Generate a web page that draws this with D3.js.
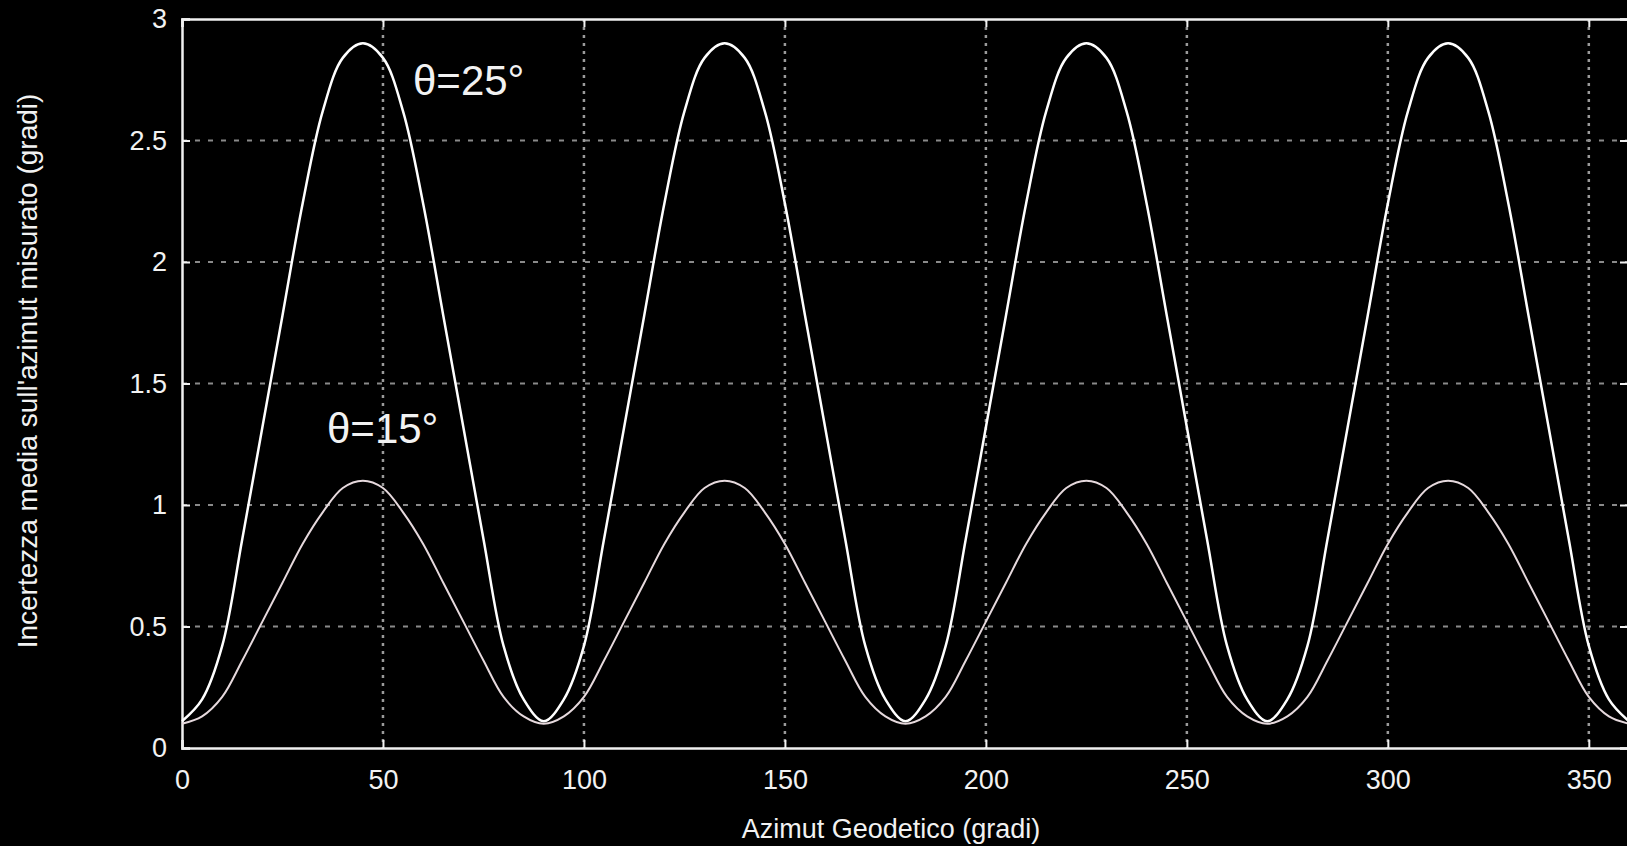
<!DOCTYPE html>
<html>
<head>
<meta charset="utf-8">
<script src="https://cdnjs.cloudflare.com/ajax/libs/d3/7.8.5/d3.min.js"></script>
<style>
  html, body { margin: 0; padding: 0; background: #000; overflow: hidden; }
  text { font-family: "Liberation Sans", Arial, sans-serif; fill: #f2f2f2; }
</style>
</head>
<body>
<div id="chart"></div>
<script>
// azimuth samples (degrees)
var azimut = [0, 5, 10, 15, 20, 25, 30, 35, 40, 45, 50, 55, 60, 65, 70, 75, 80, 85,
  90, 95, 100, 105, 110, 115, 120, 125, 130, 135, 140, 145, 150, 155, 160, 165, 170, 175,
  180, 185, 190, 195, 200, 205, 210, 215, 220, 225, 230, 235, 240, 245, 250, 255, 260, 265,
  270, 275, 280, 285, 290, 295, 300, 305, 310, 315, 320, 325, 330, 335, 340, 345, 350, 355, 360];

// theta = 25 deg
var theta25 = [0.11, 0.20, 0.42, 0.86, 1.32, 1.78, 2.24, 2.62, 2.84, 2.90, 2.84, 2.62, 2.24, 1.78, 1.32, 0.86, 0.42, 0.20,
  0.11, 0.20, 0.42, 0.86, 1.32, 1.78, 2.24, 2.62, 2.84, 2.90, 2.84, 2.62, 2.24, 1.78, 1.32, 0.86, 0.42, 0.20,
  0.11, 0.20, 0.42, 0.86, 1.32, 1.78, 2.24, 2.62, 2.84, 2.90, 2.84, 2.62, 2.24, 1.78, 1.32, 0.86, 0.42, 0.20,
  0.11, 0.20, 0.42, 0.86, 1.32, 1.78, 2.24, 2.62, 2.84, 2.90, 2.84, 2.62, 2.24, 1.78, 1.32, 0.86, 0.42, 0.20,
  0.11];

// theta = 15 deg
var theta15 = [0.10, 0.13, 0.21, 0.36, 0.52, 0.68, 0.84, 0.97, 1.07, 1.10, 1.07, 0.97, 0.84, 0.68, 0.52, 0.36, 0.21, 0.13,
  0.10, 0.13, 0.21, 0.36, 0.52, 0.68, 0.84, 0.97, 1.07, 1.10, 1.07, 0.97, 0.84, 0.68, 0.52, 0.36, 0.21, 0.13,
  0.10, 0.13, 0.21, 0.36, 0.52, 0.68, 0.84, 0.97, 1.07, 1.10, 1.07, 0.97, 0.84, 0.68, 0.52, 0.36, 0.21, 0.13,
  0.10, 0.13, 0.21, 0.36, 0.52, 0.68, 0.84, 0.97, 1.07, 1.10, 1.07, 0.97, 0.84, 0.68, 0.52, 0.36, 0.21, 0.13,
  0.10];

var xTicks = [0, 50, 100, 150, 200, 250, 300, 350];
var yTicks = [0, 0.5, 1, 1.5, 2, 2.5, 3];
var yTickLabels = ['0', '0.5', '1', '1.5', '2', '2.5', '3'];

var width = 1627, height = 846;
var plotLeft = 182, plotTop = 19, plotRight = 1629, plotBottom = 748;

var svg = d3.select('#chart').append('svg')
  .attr('width', width)
  .attr('height', height)
  .style('background', '#000');

var x = d3.scaleLinear().domain([0, 360]).range([plotLeft, plotRight]);
var y = d3.scaleLinear().domain([0, 3]).range([plotBottom, plotTop]);

// grid
svg.append('g')
  .selectAll('line')
  .data(xTicks.slice(1))
  .enter().append('line')
  .attr('x1', d => x(d)).attr('x2', d => x(d))
  .attr('y1', plotTop).attr('y2', plotBottom)
  .attr('stroke', '#9a9a9a')
  .attr('stroke-width', 2.5)
  .attr('stroke-dasharray', '3,5');

svg.append('g')
  .selectAll('line')
  .data(yTicks.slice(1, -1))
  .enter().append('line')
  .attr('x1', plotLeft).attr('x2', plotRight)
  .attr('y1', d => y(d)).attr('y2', d => y(d))
  .attr('stroke', '#8a8a8a')
  .attr('stroke-width', 2)
  .attr('stroke-dasharray', '5,8');

// axes (ticks inward)
var xaxis = d3.axisBottom(x).tickValues(xTicks).tickSize(-8).tickPadding(22);
svg.append('g')
  .attr('transform', 'translate(0,' + plotBottom + ')')
  .call(xaxis);

var yaxis = d3.axisLeft(y).tickValues(yTicks).tickSize(-8).tickPadding(15)
  .tickFormat((d, i) => yTickLabels[i]);
svg.append('g')
  .attr('transform', 'translate(' + plotLeft + ',0)')
  .call(yaxis);

svg.append('g')
  .attr('transform', 'translate(0,' + plotTop + ')')
  .call(d3.axisTop(x).tickValues(xTicks).tickSize(-8).tickFormat(''));
svg.append('g')
  .attr('transform', 'translate(' + plotRight + ',0)')
  .call(d3.axisRight(y).tickValues(yTicks).tickSize(-9).tickFormat(''));

svg.selectAll('.domain').attr('stroke', '#f0f0f0').attr('stroke-width', 2.5);
svg.selectAll('.tick line').attr('stroke', '#f0f0f0').attr('stroke-width', 2);
svg.selectAll('.tick text')
  .style('font-size', '27px')
  .attr('fill', '#f2f2f2');

// curves
var line = d3.line()
  .x((d, i) => x(azimut[i]))
  .y(d => y(d))
  .curve(d3.curveCatmullRom);

svg.append('path')
  .datum(theta15)
  .attr('d', line)
  .attr('fill', 'none')
  .attr('stroke', '#e6d9dd')
  .attr('stroke-width', 2);

svg.append('path')
  .datum(theta25)
  .attr('d', line)
  .attr('fill', 'none')
  .attr('stroke', '#ffffff')
  .attr('stroke-width', 2.5);

// curve labels
svg.append('text')
  .attr('x', 413).attr('y', 95)
  .style('font-size', '42px')
  .text('\u03b8=25\u00b0');

svg.append('text')
  .attr('x', 327).attr('y', 443)
  .style('font-size', '42px')
  .text('\u03b8=15\u00b0');

// axis titles
svg.append('text')
  .attr('x', 891).attr('y', 838)
  .attr('text-anchor', 'middle')
  .style('font-size', '27px')
  .text('Azimut Geodetico (gradi)');

svg.append('text')
  .attr('transform', 'translate(37,371) rotate(-90)')
  .attr('text-anchor', 'middle')
  .style('font-size', '28px')
  .text("Incertezza media sull'azimut misurato (gradi)");
</script>
</body>
</html>
